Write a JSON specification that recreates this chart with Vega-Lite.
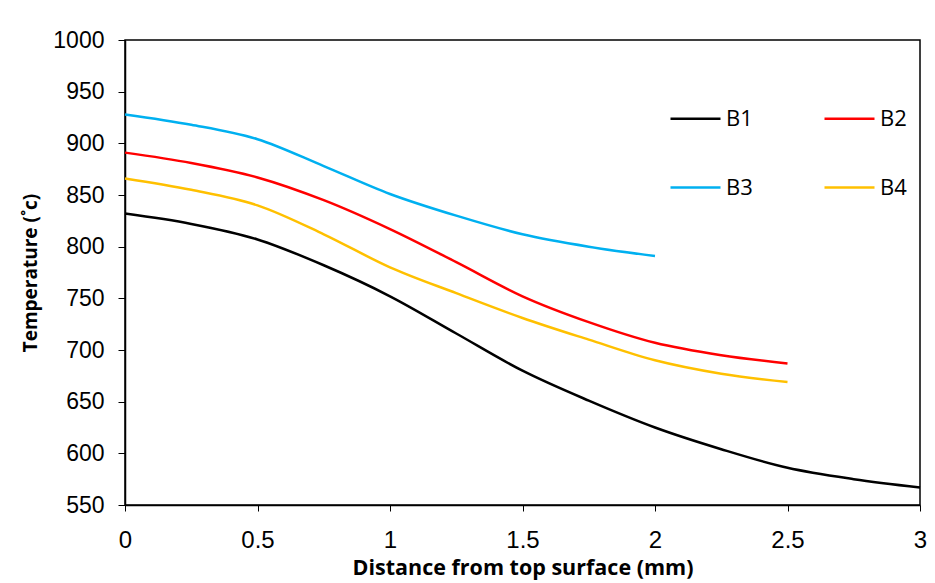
{
  "$schema": "https://vega.github.io/schema/vega-lite/v6.json",
  "width": 795,
  "height": 465,
  "autosize": {"type": "none"},
  "padding": {"left": 125, "top": 40, "right": 15, "bottom": 78},
  "background": "white",
  "config": {
    "view": {"stroke": "black", "strokeWidth": 1.5},
    "font": "Liberation Sans"
  },
  "data": {
    "values": [
      {"x": 0, "t": 832, "s": "B1"},
      {"x": 0.25, "t": 822, "s": "B1"},
      {"x": 0.5, "t": 807, "s": "B1"},
      {"x": 0.75, "t": 782, "s": "B1"},
      {"x": 1.0, "t": 752, "s": "B1"},
      {"x": 1.25, "t": 716, "s": "B1"},
      {"x": 1.5, "t": 680, "s": "B1"},
      {"x": 1.75, "t": 651, "s": "B1"},
      {"x": 2.0, "t": 625, "s": "B1"},
      {"x": 2.25, "t": 604, "s": "B1"},
      {"x": 2.5, "t": 586, "s": "B1"},
      {"x": 2.75, "t": 575, "s": "B1"},
      {"x": 3.0, "t": 567, "s": "B1"},
      {"x": 0, "t": 891, "s": "B2"},
      {"x": 0.25, "t": 881, "s": "B2"},
      {"x": 0.5, "t": 867, "s": "B2"},
      {"x": 0.75, "t": 845, "s": "B2"},
      {"x": 1.0, "t": 817, "s": "B2"},
      {"x": 1.25, "t": 785, "s": "B2"},
      {"x": 1.5, "t": 752, "s": "B2"},
      {"x": 1.75, "t": 727, "s": "B2"},
      {"x": 2.0, "t": 707, "s": "B2"},
      {"x": 2.25, "t": 695, "s": "B2"},
      {"x": 2.5, "t": 687, "s": "B2"},
      {"x": 0, "t": 928, "s": "B3"},
      {"x": 0.25, "t": 918, "s": "B3"},
      {"x": 0.5, "t": 904, "s": "B3"},
      {"x": 0.75, "t": 878, "s": "B3"},
      {"x": 1.0, "t": 851, "s": "B3"},
      {"x": 1.25, "t": 830, "s": "B3"},
      {"x": 1.5, "t": 812, "s": "B3"},
      {"x": 1.75, "t": 800, "s": "B3"},
      {"x": 2.0, "t": 791, "s": "B3"},
      {"x": 0, "t": 866, "s": "B4"},
      {"x": 0.25, "t": 855, "s": "B4"},
      {"x": 0.5, "t": 840, "s": "B4"},
      {"x": 0.75, "t": 812, "s": "B4"},
      {"x": 1.0, "t": 780, "s": "B4"},
      {"x": 1.25, "t": 755, "s": "B4"},
      {"x": 1.5, "t": 731, "s": "B4"},
      {"x": 1.75, "t": 710, "s": "B4"},
      {"x": 2.0, "t": 690, "s": "B4"},
      {"x": 2.25, "t": 677, "s": "B4"},
      {"x": 2.5, "t": 669, "s": "B4"}
    ]
  },
  "mark": {"type": "line", "interpolate": "monotone", "strokeWidth": 2.5},
  "encoding": {
    "x": {
      "field": "x", "type": "quantitative",
      "scale": {"domain": [0, 3], "nice": false, "zero": false},
      "axis": {
        "values": [0, 0.5, 1, 1.5, 2, 2.5, 3],
        "format": "~g",
        "title": "Distance from top surface (mm)",
        "titleFont": "Open Sans", "titleFontWeight": "bold", "titleFontSize": 21.5,
        "titleColor": "black", "titlePadding": 5,
        "labelFont": "Liberation Sans", "labelFontSize": 24, "labelColor": "black",
        "labelPadding": 17, "labelFlush": false,
        "grid": false, "domainColor": "black", "domainWidth": 1.5,
        "tickColor": "black", "tickSize": 6, "tickWidth": 1
      }
    },
    "y": {
      "field": "t", "type": "quantitative",
      "scale": {"domain": [550, 1000], "nice": false, "zero": false},
      "axis": {
        "values": [550, 600, 650, 700, 750, 800, 850, 900, 950, 1000],
        "format": "d",
        "title": "Temperature (˚c)",
        "titleFont": "Open Sans", "titleFontWeight": "bold", "titleFontSize": 19,
        "titleColor": "black", "titlePadding": 12,
        "labelFont": "Liberation Sans", "labelFontSize": 23, "labelColor": "black",
        "labelPadding": 14,
        "grid": false, "domainColor": "black", "domainWidth": 1.5,
        "tickColor": "black", "tickSize": 7, "tickWidth": 1
      }
    },
    "color": {
      "field": "s", "type": "nominal",
      "scale": {"domain": ["B1", "B3", "B2", "B4"], "range": ["#000000", "#00B0F0", "#FF0000", "#FFC000"]},
      "legend": {
        "title": null,
        "orient": "none",
        "legendX": 544,
        "legendY": 52,
        "columns": 2,
        "symbolType": "stroke",
        "symbolSize": 2500,
        "symbolStrokeWidth": 2.5,
        "labelFont": "Open Sans",
        "labelFontSize": 22,
        "labelColor": "black",
        "labelOffset": 4,
        "rowPadding": 31,
        "columnPadding": 66
      }
    }
  }
}
